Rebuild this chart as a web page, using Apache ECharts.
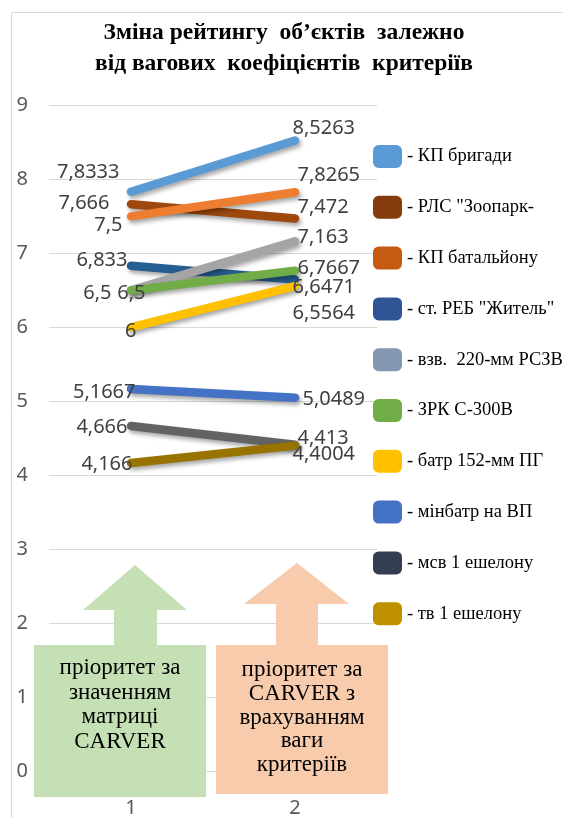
<!DOCTYPE html>
<html>
<head>
<meta charset="utf-8">
<script src="https://cdn.jsdelivr.net/npm/echarts@6/dist/echarts.min.js"></script>
<style>html,body{margin:0;padding:0;background:#fff}#c{width:563px;height:818px}</style>
</head>
<body>
<div id="c"></div>
<script>
// ---- data ----
const categories = ['1', '2'];
const yTicks = [0, 1, 2, 3, 4, 5, 6, 7, 8, 9];
const seriesNames = ['КП бригади', 'РЛС "Зоопарк-', 'КП батальйону', 'ст. РЕБ "Житель"', 'взв.  220-мм РСЗВ',
  'ЗРК С-300В', 'батр 152-мм ПГ', 'мінбатр на ВП', 'мсв 1 ешелону', 'тв 1 ешелону'];
const kpBryhady   = [7.8333, 8.5263];
const rlsZoopark  = [7.666, 7.472];
const kpBatalionu = [7.5, 7.8265];
const rebZhytel   = [6.833, 6.6471];
const rszv220     = [6.5, 7.163];
const zrkS300     = [6.5, 6.7667];
const batr152     = [6, 6.5564];
const minbatr     = [5.1667, 5.0489];
const msv1        = [4.666, 4.413];
const tv1         = [4.166, 4.4004];
const allValues = [kpBryhady, rlsZoopark, kpBatalionu, rebZhytel, rszv220, zrkS300, batr152, minbatr, msv1, tv1];

// ---- styles ----
const lineColors   = ['#5B9BD5', '#9E480E', '#ED7D31', '#255E91', '#A5A5A5', '#70AD47', '#FFC000', '#4472C4', '#636363', '#997300'];
const legendColors = ['#5B9BD5', '#843C0C', '#C55A11', '#2F5597', '#8497B0', '#70AD47', '#FFC000', '#4472C4', '#333F50', '#BF9000'];
// label offsets [dx, dy] for category 1 (right-aligned) and category 2 (left-aligned)
const labelOff1 = [[-11,-19],[-21,0],[-8,9],[-3,-5],[-19,3],[15,3],[6,4],[5,4],[-3,2],[2,2]];
const labelOff2 = [[-2,-12],[3,-11],[3,-16],[-2,8],[3,-4],[3,-2],[-2,28],[8,2],[3,-6],[-2,9]];

const fmt = v => String(v).replace('.', ',');

const series = allValues.map((vals, i) => ({
  name: seriesNames[i],
  type: 'line',
  data: vals.map((v, j) => ({
    value: v,
    label: {
      position: j === 0 ? labelOff1[i] : labelOff2[i],
      align: j === 0 ? 'right' : 'left',
      verticalAlign: 'middle'
    }
  })),
  symbol: 'circle',
  symbolSize: 1,
  itemStyle: { color: legendColors[i] },
  lineStyle: {
    color: lineColors[i], width: 8.5, cap: 'round',
    shadowColor: 'rgba(0,0,0,0.35)', shadowBlur: 4, shadowOffsetX: 2, shadowOffsetY: 3
  },
  label: {
    show: true,
    formatter: p => fmt(p.value),
    color: '#404040',
    fontFamily: 'Noto Sans',
    fontSize: 20
  },
  emphasis: { disabled: true },
  animation: false
}));

const chart = echarts.init(document.getElementById('c'));
chart.setOption({
  animation: false,
  backgroundColor: '#ffffff',
  grid: { left: 49, right: 186, top: 105.5, bottom: 42 },
  xAxis: {
    type: 'category',
    data: categories,
    boundaryGap: true,
    axisLine: { show: false },
    axisTick: { show: false },
    axisLabel: { color: '#595959', fontSize: 20, fontFamily: 'Noto Sans', margin: 27 }
  },
  yAxis: {
    type: 'value',
    min: yTicks[0], max: yTicks[yTicks.length - 1], interval: 1,
    axisLine: { show: false },
    axisTick: { show: false },
    splitLine: { lineStyle: { color: '#D9D9D9', width: 1 } },
    axisLabel: { color: '#595959', fontSize: 20, fontFamily: 'Noto Sans', margin: 21, align: 'right' }
  },
  legend: {
    orient: 'vertical',
    left: 368, top: 140,
    icon: 'roundRect',
    itemWidth: 29, itemHeight: 23, itemGap: 27.8,
    itemStyle: { borderWidth: 0 },
    formatter: n => '- ' + n,
    textStyle: { color: '#000', fontFamily: 'Liberation Serif', fontSize: 18.5 },
    selectedMode: false,
    data: seriesNames
  },
  graphic: [
    { type: 'polyline', shape: { points: [[11.5, 818], [11.5, 12.5], [563, 12.5]] }, style: { stroke: '#D9D9D9', lineWidth: 1, fill: null }, z: 0 },
    { type: 'text', x: 284, y: 18, style: { text: 'Зміна рейтингу  об’єктів  залежно\nвід вагових  коефіцієнтів  критеріїв', fontFamily: 'Liberation Serif', fontWeight: 'bold', fontSize: 23.5, lineHeight: 30.5, fill: '#000', align: 'center', verticalAlign: 'top' } },
    // green arrow + box
    { type: 'polygon', shape: { points: [[135,565],[187,610],[157,610],[157,646],[114,646],[114,610],[83,610]] }, style: { fill: '#C5E0B4' }, z: 10 },
    { type: 'rect', shape: { x: 34, y: 645, width: 172, height: 152 }, style: { fill: '#C5E0B4' }, z: 10 },
    { type: 'text', x: 120, y: 656, style: { text: 'пріоритет за\nзначенням\nматриці\nCARVER', fontFamily: 'Liberation Serif', fontSize: 23, lineHeight: 24.5, fill: '#000', align: 'center', verticalAlign: 'top' }, z: 11 },
    // orange arrow + box
    { type: 'polygon', shape: { points: [[297,563],[349,604],[318,604],[318,646],[276,646],[276,604],[244,604]] }, style: { fill: '#F8CBAD' }, z: 10 },
    { type: 'rect', shape: { x: 216, y: 645, width: 172, height: 149 }, style: { fill: '#F8CBAD' }, z: 10 },
    { type: 'text', x: 302, y: 658, style: { text: 'пріоритет за\nCARVER з\nврахуванням\nваги\nкритеріїв', fontFamily: 'Liberation Serif', fontSize: 23, lineHeight: 23.8, fill: '#000', align: 'center', verticalAlign: 'top' }, z: 11 }
  ],
  series: series
});
</script>
</body>
</html>
